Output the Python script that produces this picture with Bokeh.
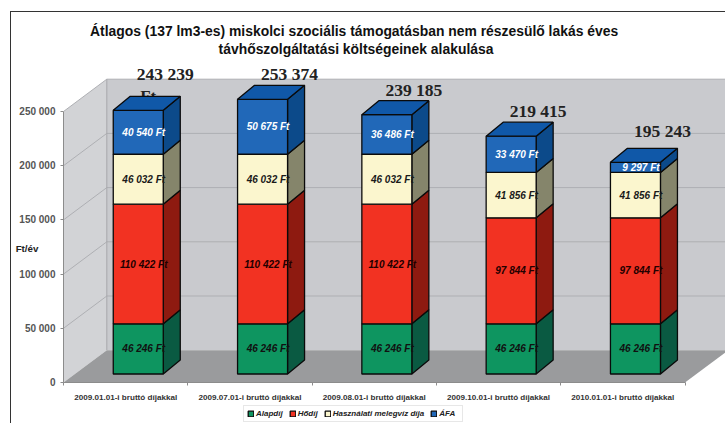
from bokeh.plotting import figure
from bokeh.layouts import column
from bokeh.models import (ColumnDataSource, Range1d, FixedTicker, Label, Legend, LegendItem, LinearAxis)
from bokeh.core.properties import value
from bokeh.embed import file_html
from bokeh.resources import INLINE

categories = ["2009.01.01-i bruttó díjakkal", "2009.07.01-i bruttó díjakkal", "2009.08.01-i bruttó díjakkal",
              "2009.10.01-i bruttó díjakkal", "2010.01.01-i bruttó díjakkal"]
alapdij = [46246, 46246, 46246, 46246, 46246]
hodij = [110422, 110422, 110422, 97844, 97844]
melegviz = [46032, 46032, 46032, 41856, 41856]
afa = [40540, 50675, 36486, 33470, 9297]
totals = ["243 239", "253 374", "239 185", "219 415", "195 243"]
y_ticks = [0, 50000, 100000, 150000, 200000, 250000]
y_tick_labels = ["0", "50 000", "100 000", "150 000", "200 000", "250 000"]

series = [
    ("Alapdíj", alapdij, "#0E9560", "#0A5A42", "#0E5C44", "#111111"),
    ("Hődíj", hodij, "#F23222", "#8E1A10", "#8E1A10", "#220000"),
    ("Használati melegvíz díja", melegviz, "#FBF6CE", "#85856B", "#85856B", "#1a1a1a"),
    ("ÁFA", afa, "#2168B8", "#0C4A8A", "#1058A8", "#FFFFFF"),
]

MX, MY = 10, 11
LEG_H = 19
W, H = 725 - MX, 423 - MY - LEG_H
PX_X = 124.3          # pixels per category
PX_Y = 0.001084       # pixels per Ft
BOTTOM, LEFT = 23, 52
x_end = (W - LEFT) / PX_X
y_end = (H - BOTTOM) / PX_Y

WALL_DX, WALL_DY = 43.3 / PX_X, 32.3 / PX_Y
BAR_FX, BAR_FY = 12.6 / PX_X, 8.5 / PX_Y
BAR_DX, BAR_DY = 17 / PX_X, 14 / PX_Y
BAR_W = 50 / PX_X
BORDER = {"border-left": "1.5px solid #333333"}

p = figure(width=W, height=H, output_backend="svg", toolbar_location=None,
           x_range=Range1d(0, x_end), y_range=Range1d(0, y_end),
           min_border_left=LEFT, min_border_bottom=BOTTOM, min_border_top=0, min_border_right=0,
           background_fill_color="white", border_fill_color="white", outline_line_color=None,
           margin=(MY, 0, 0, MX),
           styles={**BORDER, "border-top": "1.5px solid #333333"})
p.xgrid.visible = False
p.ygrid.visible = False

AX = "#8c8c8c"
xa = p.xaxis[0]
xa.ticker = FixedTicker(ticks=[i + 0.5 for i in range(5)], minor_ticks=list(range(6)))
xa.major_label_overrides = {i + 0.5: c for i, c in enumerate(categories)}
xa.bounds = (0, 5)
xa.axis_line_color = AX
xa.major_tick_line_color = None
xa.minor_tick_line_color = AX
xa.minor_tick_out = 3
xa.minor_tick_in = 0
xa.major_label_standoff = 4
xa.major_label_text_font = "Liberation Sans"
xa.major_label_text_font_style = "bold"
xa.major_label_text_font_size = "8.1px"
xa.major_label_text_color = "#333333"

ya = p.yaxis[0]
ya.ticker = FixedTicker(ticks=y_ticks)
ya.major_label_overrides = dict(zip(y_ticks, y_tick_labels))
ya.bounds = (0, 250000)
ya.axis_line_color = AX
ya.major_tick_line_color = AX
ya.major_tick_out = 3
ya.major_tick_in = 0
ya.minor_tick_line_color = None
ya.major_label_standoff = 5
ya.major_label_text_font = "Liberation Sans"
ya.major_label_text_font_style = "bold"
ya.major_label_text_font_size = "10px"
ya.major_label_text_color = "#555555"

# the unit title sits low on the axis, as a one-label axis of its own
unit_axis = LinearAxis(ticker=FixedTicker(ticks=[123500]), major_label_overrides={123500: "Ft/év"},
                       axis_line_color=None, major_tick_line_color=None, minor_tick_line_color=None,
                       major_label_standoff=-28, major_label_text_font="Liberation Sans",
                       major_label_text_font_style="bold", major_label_text_font_size="9.8px",
                       major_label_text_color="#222222")
p.add_layout(unit_axis, "left")

vmax = y_ticks[-1]
# side wall, back wall, floor
p.patch([0, WALL_DX, WALL_DX, 0], [0, WALL_DY, vmax + WALL_DY, vmax], fill_color="#D2D3D6", line_color=None)
p.patch([WALL_DX, 5 + WALL_DX, 5 + WALL_DX, WALL_DX], [WALL_DY, WALL_DY, vmax + WALL_DY, vmax + WALL_DY],
        fill_color="#C9CACE", line_color=None)
p.patch([0, 5, 5 + WALL_DX, WALL_DX], [0, 0, WALL_DY, WALL_DY], fill_color="#9A9B9D", line_color=None)
grid_vals = y_ticks[1:]
p.segment([WALL_DX] * 5, [v + WALL_DY for v in grid_vals], [5 + WALL_DX] * 5, [v + WALL_DY for v in grid_vals],
          line_color="#AEAFB3", line_width=1)
p.segment([0] * 5, grid_vals, [WALL_DX] * 5, [v + WALL_DY for v in grid_vals], line_color="#AEAFB3", line_width=1)
p.segment([WALL_DX], [WALL_DY], [WALL_DX], [vmax + WALL_DY], line_color="#A5A6AA", line_width=1)

# wrapped remainder of the first total, hidden behind the bar
p.text([0.5 + BAR_FX + 10 / PX_X], [sum(s[1][0] for s in series) + BAR_FY], text=["Ft"],
       text_font=value("Liberation Serif"), text_font_style="bold", text_font_size="17px",
       text_align="center", text_baseline="middle", text_color="#222222", y_offset=-14)

# bars
bottoms = [0.0] * 5
labels = {"x": [], "y": [], "text": [], "color": []}
centers = [i + 0.5 + BAR_FX for i in range(5)]
for name, vals, front, side, top_c, txt in series:
    tops = [b + v for b, v in zip(bottoms, vals)]
    lefts = [c - BAR_W / 2 for c in centers]
    rights = [c + BAR_W / 2 for c in centers]
    xs_side = [[r, r + BAR_DX, r + BAR_DX, r] for r in rights]
    ys_side = [[b + BAR_FY, b + BAR_FY + BAR_DY, t + BAR_FY + BAR_DY, t + BAR_FY] for b, t in zip(bottoms, tops)]
    p.patches(xs_side, ys_side, fill_color=side, line_color="#0a0a0a", line_width=1.3)
    p.quad(left=lefts, right=rights, bottom=[b + BAR_FY for b in bottoms], top=[t + BAR_FY for t in tops],
           fill_color=front, line_color="#0a0a0a", line_width=1.3)
    for c, b, t, v in zip(centers, bottoms, tops, vals):
        labels["x"].append(c + 5.5 / PX_X)
        labels["y"].append((b + t) / 2 + BAR_FY)
        labels["text"].append(f"{v // 1000} {v % 1000:03d} Ft")
        labels["color"].append(txt)
    bottoms = tops
    last_side = top_c

xs_top = [[c - BAR_W / 2, c + BAR_W / 2, c + BAR_W / 2 + BAR_DX, c - BAR_W / 2 + BAR_DX] for c in centers]
ys_top = [[t + BAR_FY, t + BAR_FY, t + BAR_FY + BAR_DY, t + BAR_FY + BAR_DY] for t in bottoms]
p.patches(xs_top, ys_top, fill_color=last_side, line_color="#0a0a0a", line_width=1.3)

p.text("x", "y", text="text", source=ColumnDataSource(labels), text_color="color",
       text_font=value("Liberation Sans"), text_font_style="bold italic", text_font_size="10px",
       text_align="center", text_baseline="middle")

totals_src = ColumnDataSource(dict(
    x=[c + 27 / PX_X for c in centers], y=[t + BAR_FY for t in bottoms], text=totals,
    dy=[-36, -25, -25, -25, -31]))
p.text("x", "y", text="text", source=totals_src, y_offset="dy",
       text_font=value("Liberation Serif"), text_font_style="bold", text_font_size="17.5px",
       text_align="center", text_baseline="middle", text_color="#222222")

# chart title
for txt, yy in [("Átlagos (137 lm3-es) miskolci szociális támogatásban nem részesülő lakás  éves", 29),
                ("távhőszolgáltatási költségeinek alakulása", 47)]:
    p.add_layout(Label(x=(356 - MX - LEFT - 1.5) / PX_X, y=(381 - yy) / PX_Y, text=txt, text_align="center",
                       text_baseline="middle", text_font="Liberation Sans", text_font_style="bold",
                       text_font_size="13.9px", text_color="#111111"))

# legend strip under the plot
q = figure(width=W, height=LEG_H, output_backend="svg", toolbar_location=None,
           x_axis_type=None, y_axis_type=None, x_range=Range1d(0, 1), y_range=Range1d(0, 1),
           min_border=0, outline_line_color=None, margin=(0, 0, 0, MX), styles=BORDER)
q.xgrid.visible = False
q.ygrid.visible = False
items = []
for name, vals, front, side, top_c, txt in series:
    # legend keys only: these quads lie outside the strip's range
    r = q.quad(left=[-2], right=[-1], bottom=[-2], top=[-1], fill_color=front, line_color="#0a0a0a", line_width=1.3)
    items.append(LegendItem(label=name, renderers=[r]))
legend = Legend(items=items, orientation="horizontal", location=(180, 1),
                label_text_font="Liberation Sans", label_text_font_style="bold italic",
                label_text_font_size="8px", label_text_color="#222222",
                glyph_width=7, glyph_height=7, label_standoff=2, spacing=6, padding=3, margin=0,
                border_line_color="#cfcfcf", background_fill_color="white", background_fill_alpha=1)
q.add_layout(legend, "center")

layout = column(p, q, spacing=0)
open("out.html", "w").write(file_html(layout, INLINE))
